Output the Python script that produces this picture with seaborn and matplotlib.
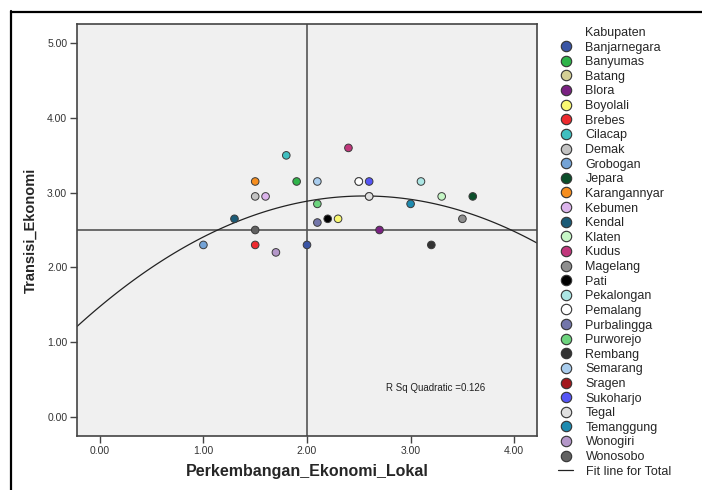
import numpy as np
import pandas as pd
import matplotlib
matplotlib.use("Agg")
import matplotlib.pyplot as plt
from matplotlib.lines import Line2D
import seaborn as sns

# data
kabupaten = ["Banjarnegara", "Banyumas", "Batang", "Blora", "Boyolali", "Brebes",
             "Cilacap", "Demak", "Grobogan", "Jepara", "Karangannyar", "Kebumen",
             "Kendal", "Klaten", "Kudus", "Magelang", "Pati", "Pekalongan",
             "Pemalang", "Purbalingga", "Purworejo", "Rembang", "Semarang",
             "Sragen", "Sukoharjo", "Tegal", "Temanggung", "Wonogiri", "Wonosobo"]
perkembangan = [2.0, 1.9, 2.5, 2.7, 2.3, 1.5,
                1.8, 1.5, 1.0, 3.6, 1.5, 1.6,
                1.3, 3.3, 2.4, 3.5, 2.2, 3.1,
                2.5, 2.1, 2.1, 3.2, 2.1,
                2.6, 2.6, 2.6, 3.0, 1.7, 1.5]
transisi = [2.3, 3.15, 3.15, 2.5, 2.65, 2.3,
            3.5, 2.95, 2.3, 2.95, 3.15, 2.95,
            2.65, 2.95, 3.6, 2.65, 2.65, 3.15,
            3.15, 2.6, 2.85, 2.3, 3.15,
            2.95, 3.15, 2.95, 2.85, 2.2, 2.5]
warna = ["#3a55a5", "#2fb44a", "#d4cf95", "#7a2182", "#f9f871", "#ee2a2e",
         "#3fbfc0", "#c3c3c3", "#74a3d6", "#0b4f2a", "#f68e1f", "#dcb4ec",
         "#1b5b77", "#c6f7c6", "#c1377c", "#8e8e8e", "#000000", "#ace6e4",
         "#ffffff", "#7376aa", "#6dd47e", "#333333", "#a9cdee",
         "#a3171c", "#5555f6", "#e0e0e0", "#1e8bb0", "#b497c9", "#616161"]
x_ticks = [0.0, 1.0, 2.0, 3.0, 4.0]
y_ticks = [0.0, 1.0, 2.0, 3.0, 4.0, 5.0]
rsq_text = "R Sq Quadratic =0.126"

df = pd.DataFrame({"Kabupaten": kabupaten,
                   "Perkembangan_Ekonomi_Lokal": perkembangan,
                   "Transisi_Ekonomi": transisi})
palet = dict(zip(kabupaten, warna))

sns.set_style("white")
plt.rcParams["font.family"] = ["Liberation Sans", "DejaVu Sans"]

fig = plt.figure(figsize=(7.02, 4.90), dpi=100)
ax = fig.add_axes([77 / 702, 1 - 436 / 490, (537 - 77) / 702, (436 - 24) / 490])
ax.set_facecolor("#f0f0f0")
ax.set_xlim(-0.22, 4.22)
ax.set_ylim(-0.26, 5.26)

ax.axvline(2.0, color="#555555", lw=1.2, zorder=1)
ax.axhline(2.5, color="#555555", lw=1.2, zorder=1)

# quadratic fit line over the whole x range
sns.regplot(data=df, x="Perkembangan_Ekonomi_Lokal", y="Transisi_Ekonomi",
            order=2, scatter=False, ci=None, truncate=False, ax=ax,
            line_kws={"color": "#222222", "lw": 0.9, "zorder": 2})

sns.scatterplot(data=df, x="Perkembangan_Ekonomi_Lokal", y="Transisi_Ekonomi",
                hue="Kabupaten", hue_order=kabupaten, palette=palet, s=30,
                edgecolor="#3a3a3a", linewidth=0.7, legend=False, zorder=3, ax=ax)

ax.text(2.76, 0.38, rsq_text, fontsize=7, color="#222222", va="center")

ax.set_xticks(x_ticks)
ax.set_xticklabels([f"{v:.2f}" for v in x_ticks])
ax.set_yticks(y_ticks)
ax.set_yticklabels([f"{v:.2f}" for v in y_ticks])
ax.tick_params(bottom=True, left=True, direction="out", length=5, width=1,
               color="#444444", labelsize=7.5, labelcolor="#333333", pad=2)
for sp in ax.spines.values():
    sp.set_color("#444444")
    sp.set_linewidth(1.2)

ax.set_xlabel("Perkembangan_Ekonomi_Lokal", fontsize=11.5, fontweight="bold", labelpad=6)
ax.set_ylabel("Transisi_Ekonomi", fontsize=10.5, fontweight="bold", labelpad=7)

# legend
handles = [Line2D([], [], linestyle="none", label="Kabupaten")]
for nama in kabupaten:
    handles.append(Line2D([0], [0], marker="o", linestyle="none",
                          markerfacecolor=palet[nama], markeredgecolor="#333333",
                          markeredgewidth=0.8, markersize=7.5, label=nama))
handles.append(Line2D([0], [0], color="#222222", lw=0.9, label="Fit line for Total"))
fig.legend(handles=handles, loc="upper left", bbox_to_anchor=(558 / 702, 1 - 27 / 490),
           frameon=False, fontsize=9, labelspacing=0.21, handlelength=1.2,
           handletextpad=1.0, borderpad=0, borderaxespad=0)

# outer frame (only left and top edges are visible)
fig.add_artist(Line2D([11 / 702, 11 / 702], [0, 1 - 11 / 490],
                      transform=fig.transFigure, color="black", lw=1.6))
fig.add_artist(Line2D([11 / 702, 1], [1 - 12 / 490, 1 - 12 / 490],
                      transform=fig.transFigure, color="black", lw=1.6))

fig.savefig("out.png", dpi=100)
